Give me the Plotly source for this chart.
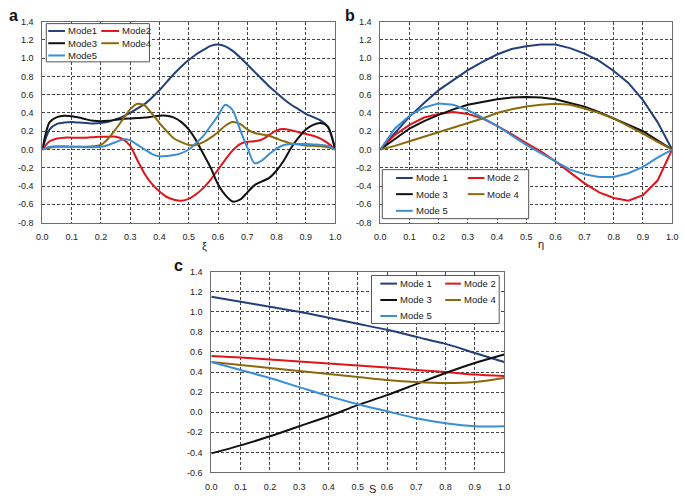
import plotly.graph_objects as go

W, H = 685, 501

# ---------------- data ----------------
xi = [i * 0.025 for i in range(41)]
a_mode1 = [0, 0.22, 0.28, 0.295, 0.30, 0.295, 0.29, 0.285, 0.29, 0.305, 0.33, 0.36, 0.40, 0.45, 0.50, 0.57,
           0.65, 0.74, 0.83, 0.91, 0.98, 1.04, 1.09, 1.135, 1.15, 1.13, 1.08, 1.01, 0.93, 0.85, 0.77, 0.69,
           0.62, 0.55, 0.49, 0.44, 0.39, 0.355, 0.32, 0.25, 0]
a_mode2 = [0, 0.09, 0.12, 0.13, 0.13, 0.13, 0.13, 0.135, 0.14, 0.14, 0.14, 0.115, 0.04, -0.12, -0.27, -0.38,
           -0.46, -0.52, -0.55, -0.56, -0.54, -0.49, -0.42, -0.33, -0.22, -0.11, -0.01, 0.06, 0.085, 0.09,
           0.11, 0.16, 0.21, 0.225, 0.21, 0.19, 0.17, 0.15, 0.12, 0.07, 0]
a_mode3 = [0, 0.30, 0.355, 0.37, 0.365, 0.35, 0.33, 0.315, 0.31, 0.315, 0.325, 0.335, 0.34, 0.345, 0.35, 0.36,
           0.37, 0.37, 0.35, 0.30, 0.22, 0.10, -0.05, -0.20, -0.38, -0.50, -0.57, -0.55, -0.47, -0.39,
           -0.35, -0.31, -0.23, -0.12, 0.02, 0.13, 0.22, 0.27, 0.29, 0.25, 0]
a_mode4 = [0, 0.02, 0.03, 0.03, 0.03, 0.03, 0.03, 0.035, 0.05, 0.12, 0.22, 0.33, 0.44, 0.50, 0.48, 0.39,
           0.29, 0.20, 0.12, 0.08, 0.05, 0.05, 0.08, 0.13, 0.19, 0.26, 0.30, 0.28, 0.22, 0.18,
           0.165, 0.15, 0.12, 0.09, 0.065, 0.055, 0.045, 0.04, 0.035, 0.025, 0]
a_mode5 = [0, 0.03, 0.035, 0.035, 0.03, 0.03, 0.025, 0.025, 0.03, 0.05, 0.08, 0.11, 0.10, 0.05, 0.0, -0.05,
           -0.075, -0.07, -0.06, -0.04, 0.0, 0.07, 0.15, 0.26, 0.37, 0.49, 0.43, 0.22, 0.02, -0.15,
           -0.12, -0.05, 0.01, 0.05, 0.06, 0.06, 0.06, 0.055, 0.05, 0.04, 0]

eta = [i * 0.05 for i in range(21)]
b_mode1 = [0, 0.18, 0.36, 0.51, 0.65, 0.76, 0.87, 0.96, 1.04, 1.10, 1.13, 1.15, 1.15, 1.11, 1.05, 0.97, 0.86, 0.73, 0.54, 0.30, 0]
b_mode2 = [0, 0.16, 0.27, 0.35, 0.39, 0.41, 0.39, 0.34, 0.26, 0.17, 0.07, -0.02, -0.13, -0.25, -0.37, -0.47, -0.53, -0.56, -0.50, -0.34, 0]
b_mode3 = [0, 0.12, 0.23, 0.31, 0.38, 0.44, 0.49, 0.52, 0.55, 0.57, 0.575, 0.57, 0.55, 0.51, 0.47, 0.41, 0.34, 0.275, 0.20, 0.10, 0]
b_mode4 = [0, 0.04, 0.09, 0.14, 0.19, 0.24, 0.29, 0.34, 0.40, 0.44, 0.47, 0.49, 0.50, 0.49, 0.45, 0.40, 0.34, 0.26, 0.175, 0.085, 0]
b_mode5 = [0, 0.23, 0.37, 0.46, 0.505, 0.49, 0.43, 0.35, 0.26, 0.15, 0.05, -0.04, -0.13, -0.22, -0.27, -0.30, -0.30, -0.26, -0.19, -0.09, 0]

s_vals = [i * 0.1 for i in range(11)]
c_mode1 = [1.15, 1.10, 1.05, 1.0, 0.94, 0.88, 0.82, 0.75, 0.68, 0.59, 0.50]
c_mode2 = [0.56, 0.545, 0.525, 0.505, 0.485, 0.465, 0.445, 0.42, 0.40, 0.375, 0.36]
c_mode3 = [-0.41, -0.33, -0.24, -0.14, -0.04, 0.07, 0.17, 0.28, 0.39, 0.49, 0.575]
c_mode4 = [0.50, 0.47, 0.44, 0.41, 0.38, 0.35, 0.32, 0.30, 0.29, 0.30, 0.34]
c_mode5 = [0.50, 0.42, 0.34, 0.25, 0.16, 0.08, 0.01, -0.06, -0.11, -0.14, -0.14]

names_a = ["Mode1", "Mode2", "Mode3", "Mode4", "Mode5"]
names_bc = ["Mode 1", "Mode 2", "Mode 3", "Mode 4", "Mode 5"]
x_ticks = [0.0, 0.1, 0.2, 0.3, 0.4, 0.5, 0.6, 0.7, 0.8, 0.9, 1.0]
y_ticks_ab = [-0.8, -0.6, -0.4, -0.2, 0.0, 0.2, 0.4, 0.6, 0.8, 1.0, 1.2, 1.4]
y_ticks_c = [-0.6, -0.4, -0.2, 0.0, 0.2, 0.4, 0.6, 0.8, 1.0, 1.2, 1.4]

colors = ["#23407a", "#e0141b", "#111111", "#8a6a0c", "#3a8ed6"]

# ---------------- figure ----------------
fig = go.Figure()

def px(x):
    return x / W

def py(y):
    return 1 - y / H

panels = [
    ("x", "y", xi, [a_mode1, a_mode2, a_mode3, a_mode4, a_mode5], "spline"),
    ("x2", "y2", eta, [b_mode1, b_mode2, b_mode3, b_mode4, b_mode5], "linear"),
    ("x3", "y3", s_vals, [c_mode1, c_mode2, c_mode3, c_mode4, c_mode5], "spline"),
]
for xa, ya, xs, series, shape in panels:
    for k, ys in enumerate(series):
        fig.add_trace(go.Scatter(
            x=xs, y=ys, mode="lines", xaxis=xa, yaxis=ya, showlegend=False,
            line=dict(color=colors[k], width=2, shape=shape, smoothing=0.8 if shape == "spline" else None),
            hoverinfo="skip"))

font_family = "Liberation Sans, Arial, sans-serif"
common_x = dict(range=[0, 1], tickvals=x_ticks, ticktext=[f"{v:.1f}" for v in x_ticks],
                showgrid=True, gridcolor="#444444", griddash="3px,2px", gridwidth=1,
                showline=True, linecolor="#6e6e6e", linewidth=1, mirror=True,
                zeroline=False, ticks="outside", ticklen=6, tickcolor="rgba(0,0,0,0)",
                tickfont=dict(size=9, color="#222222", family=font_family))
common_y = dict(showgrid=True, gridcolor="#444444", griddash="3px,2px", gridwidth=1,
                showline=True, linecolor="#6e6e6e", linewidth=1, mirror=True,
                zeroline=False, ticks="outside", ticklen=6, tickcolor="rgba(0,0,0,0)",
                tickfont=dict(size=9, color="#222222", family=font_family))

fig.update_layout(
    width=W, height=H, margin=dict(l=0, r=0, t=0, b=0),
    paper_bgcolor="white", plot_bgcolor="white", showlegend=False,
    font=dict(family=font_family, color="#222222"),
    xaxis=dict(domain=[px(37), px(335)], anchor="y", **common_x),
    yaxis=dict(domain=[py(222), py(17)], anchor="x", range=[-0.8, 1.4], tickvals=y_ticks_ab,
               ticktext=[f"{v:.1f}" for v in y_ticks_ab], **common_y),
    xaxis2=dict(domain=[px(381), px(678)], anchor="y2", **common_x),
    yaxis2=dict(domain=[py(222), py(17)], anchor="x2", range=[-0.8, 1.4], tickvals=y_ticks_ab,
                ticktext=[f"{v:.1f}" for v in y_ticks_ab], **common_y),
    xaxis3=dict(domain=[px(209), px(507)], anchor="y3", **common_x),
    yaxis3=dict(domain=[py(477), py(272)], anchor="x3", range=[-0.6, 1.4], tickvals=y_ticks_c,
                ticktext=[f"{v:.1f}" for v in y_ticks_c], **common_y),
)

shapes = []
annotations = []

# legends drawn as boxes with sample lines and text
legend_specs = [
    ((41, 19, 146, 58), [26.5, 39, 51.5], (43, 60), (97, 115), names_a, 9.5),
    ((383, 168, 532, 218), [176.5, 193, 210], (397, 414), (470, 487), names_bc, 9.5),
    ((372, 276, 502, 325), [284.3, 301, 317.3], (381, 398), (447, 463), names_bc, 9.5),
]
for (l, t, r, b), rows, c1, c2, names, fs in legend_specs:
    shapes.append(dict(type="rect", xref="paper", yref="paper", x0=px(l), x1=px(r), y0=py(b), y1=py(t),
                       line=dict(color="#555555", width=1), fillcolor="white", layer="above"))
    slots = [(rows[0], c1), (rows[0], c2), (rows[1], c1), (rows[1], c2), (rows[2], c1)]
    for k, (ry, (lx0, lx1)) in enumerate(slots):
        shapes.append(dict(type="line", xref="paper", yref="paper", x0=px(lx0), x1=px(lx1),
                           y0=py(ry), y1=py(ry), line=dict(color=colors[k], width=2), layer="above"))
        annotations.append(dict(text=names[k], xref="paper", yref="paper", x=px(lx1 + 1), y=py(ry),
                                xanchor="left", yanchor="middle", showarrow=False,
                                font=dict(size=fs, color="#222222", family=font_family)))

# panel letters
for letter, (lx, ly) in zip(["a", "b", "c"], [(8, 11), (350, 11), (176, 266)]):
    annotations.append(dict(text=f"<b>{letter}</b>", xref="paper", yref="paper", x=px(lx), y=py(ly),
                            xanchor="center", yanchor="middle", showarrow=False,
                            font=dict(size=16, color="#111111", family=font_family)))

# axis titles
for title, (tx, ty) in zip(["ξ", "η", "S"], [(202, 246), (545, 244), (373, 494)]):
    annotations.append(dict(text=title, xref="paper", yref="paper", x=px(tx), y=py(ty),
                            xanchor="center", yanchor="middle", showarrow=False,
                            font=dict(size=11, color="#222222", family=font_family)))

fig.update_layout(shapes=shapes, annotations=annotations)
fig.write_html("out.html", config={"displayModeBar": False, "staticPlot": True},
               post_script="document.body.style.margin='0';document.body.style.overflow='hidden';")
